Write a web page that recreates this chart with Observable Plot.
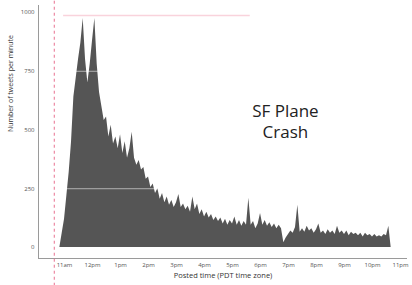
<!DOCTYPE html>
<html><head><meta charset="utf-8">
<script src="https://cdn.jsdelivr.net/npm/d3@7"></script>
<script src="https://cdn.jsdelivr.net/npm/@observablehq/plot@0.6"></script>
<style>
html,body{margin:0;padding:0;background:#fff;}
#chart svg{display:block;}
</style></head><body><div id="chart"></div>
<script>
// Time of each sample (PDT), 5-minute resolution
const times = [
  "10:50","10:55",
  "11:00","11:05","11:10","11:15","11:20","11:25","11:30","11:35","11:40","11:45","11:50","11:55",
  "12:00","12:05","12:10","12:15","12:20","12:25","12:30","12:35","12:40","12:45","12:50","12:55",
  "13:00","13:05","13:10","13:15","13:20","13:25","13:30","13:35","13:40","13:45","13:50","13:55",
  "14:00","14:05","14:10","14:15","14:20","14:25","14:30","14:35","14:40","14:45","14:50","14:55",
  "15:00","15:05","15:10","15:15","15:20","15:25","15:30","15:35","15:40","15:45","15:50","15:55",
  "16:00","16:05","16:10","16:15","16:20","16:25","16:30","16:35","16:40","16:45","16:50","16:55",
  "17:00","17:05","17:10","17:15","17:20","17:25","17:30","17:35","17:40","17:45","17:50","17:55",
  "18:00","18:05","18:10","18:15","18:20","18:25","18:30","18:35","18:40","18:45","18:50","18:55",
  "19:00","19:05","19:10","19:15","19:20","19:25","19:30","19:35","19:40","19:45","19:50","19:55",
  "20:00","20:05","20:10","20:15","20:20","20:25","20:30","20:35","20:40","20:45","20:50","20:55",
  "21:00","21:05","21:10","21:15","21:20","21:25","21:30","21:35","21:40","21:45","21:50","21:55",
  "22:00","22:05","22:10","22:15","22:20","22:25","22:30","22:35","22:40"
];
// Tweets per minute
const tweets = [
  0, 60,
  120, 220, 320, 450, 640, 720, 800, 870, 975, 800, 700, 780,
  880, 975, 780, 660, 600, 540, 555, 470, 520, 440, 470, 420,
  480, 400, 450, 380, 420, 490, 380, 350, 370, 330, 340, 290,
  300, 255, 270, 230, 250, 205, 230, 190, 215, 180, 200, 170,
  190, 225, 170, 185, 160, 175, 150, 215, 160, 185, 140, 160,
  130, 150, 125, 140, 115, 130, 110, 125, 100, 120, 95, 115,
  100, 130, 95, 115, 90, 110, 95, 210, 95, 110, 80, 100,
  145, 95, 115, 90, 105, 85, 100, 80, 95, 80, 20, 40,
  55, 70, 60, 85, 180, 65, 80, 65, 90, 70, 80, 60,
  75, 100, 60, 70, 55, 75, 60, 70, 55, 90, 60, 70,
  55, 70, 50, 65, 55, 60, 50, 60, 45, 60, 50, 55,
  45, 55, 45, 50, 45, 55, 50, 90, 0
];
const tickHours = [11, 12, 13, 14, 15, 16, 17, 18, 19, 20, 21, 22, 23];
const tickLabels = ["11am","12pm","1pm","2pm","3pm","4pm","5pm","6pm","7pm","8pm","9pm","10pm","11pm"];
const yTicks = [0, 250, 500, 750, 1000];
const gridValues = [250, 750];
const crashTime = "10:38";
const bandStart = "10:58";
const bandEnd = "17:38";
const bandLevel = 987;
const noteLines = ["SF Plane", "Crash"];
const xTitle = "Posted time (PDT time zone)";
const yTitle = "Number of tweets per minute";

const toHour = s => { const [h, m] = s.split(":").map(Number); return h + m / 60; };
const data = times.map((t, i) => ({hour: toHour(t), count: tweets[i]}));
const xDomain = [10.07, 23.25];
const yDomain = [-47, 1030];

const chart = Plot.plot({
  width: 412, height: 285,
  marginLeft: 38, marginRight: 5, marginTop: 5, marginBottom: 27,
  style: {fontFamily: "'Open Sans', sans-serif", background: "#fff", color: "#555"},
  x: {domain: xDomain},
  y: {domain: yDomain},
  marks: [
    Plot.areaY(data, {x: "hour", y: "count", fill: "#555", curve: "linear"}),
    Plot.ruleY(gridValues, {stroke: "#fff", strokeOpacity: 0.55, strokeWidth: 1}),
    Plot.ruleX([xDomain[0]], {stroke: "#9a9a9a"}),
    Plot.ruleY([yDomain[0]], {stroke: "#9a9a9a"}),
    Plot.ruleX([toHour(crashTime)], {y1: -165, y2: 1055, stroke: "#e8708f", strokeDasharray: "3,3", strokeWidth: 1}),
    Plot.ruleY([bandLevel], {x1: toHour(bandStart), x2: toHour(bandEnd), stroke: "#f9d3dc", strokeWidth: 1.5}),
    Plot.text([noteLines.join("\n")], {x: 18.89, y: 540, text: d => d, fontSize: 17, lineHeight: 1.25, fill: "#222"}),
    Plot.axisX(tickHours, {tickFormat: (d, i) => tickLabels[i], tickSize: 0, tickPadding: 4, fontSize: 6, label: null, fill: "#555"}),
    Plot.axisY(yTicks, {tickFormat: d => String(d), tickSize: 0, tickPadding: 4, fontSize: 6, label: null, fill: "#555"}),
    Plot.text([xTitle], {frameAnchor: "bottom", dy: 19, text: d => d, fontSize: 7.5, fill: "#333"}),
    Plot.text([yTitle], {frameAnchor: "left", dx: -28, rotate: -90, text: d => d, fontSize: 7, fill: "#333"})
  ]
});
document.getElementById("chart").appendChild(chart);
</script>
</body></html>
